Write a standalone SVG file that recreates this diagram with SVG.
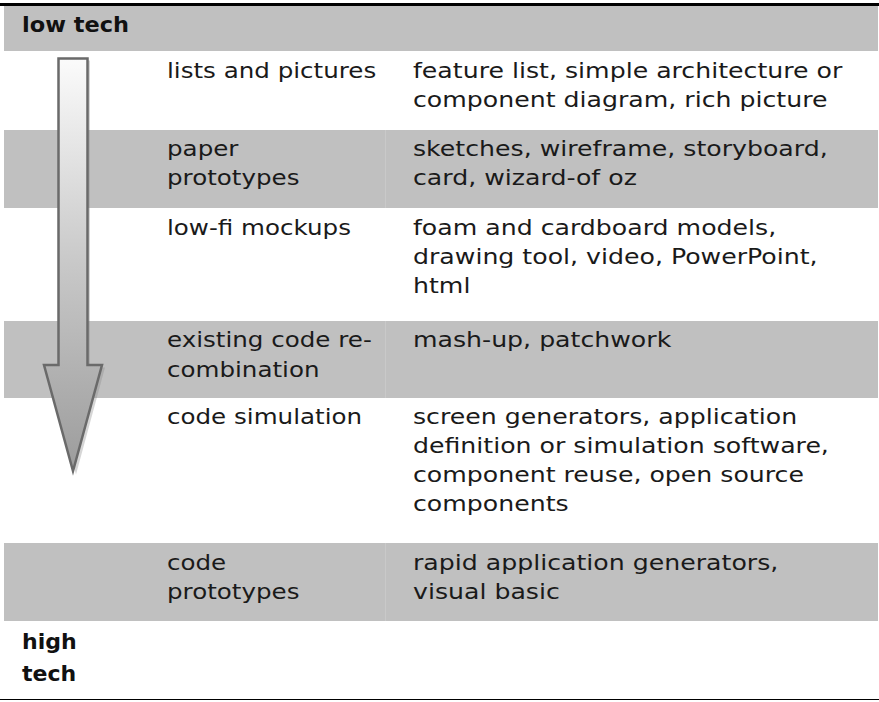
<svg xmlns="http://www.w3.org/2000/svg" width="879" height="702" viewBox="0 0 879 702">
<style>
.band{fill:#c0c0c0}
.t{font-family:"DejaVu Sans",sans-serif;font-size:21px;fill:#1a1a1a}
.b{font-family:"DejaVu Sans",sans-serif;font-size:21px;font-weight:bold;fill:#111}
.sep{stroke:#c9c9c9;stroke-width:1}
</style>
<defs>
<linearGradient id="ag" x1="0" y1="0" x2="0" y2="1">
<stop offset="0" stop-color="#fbfbfb"/>
<stop offset="0.5" stop-color="#c8c8c8"/>
<stop offset="1" stop-color="#9c9c9c"/>
</linearGradient>
</defs>
<g id="table-bands">
<rect class="band" x="4" y="6" width="874" height="45"/>
<rect class="band" x="4" y="130" width="874" height="78"/>
<rect class="band" x="4" y="321" width="874" height="77"/>
<rect class="band" x="4" y="543" width="874" height="78"/>
<line class="sep" x1="385.5" y1="130" x2="385.5" y2="208"/>
<line class="sep" x1="385.5" y1="321" x2="385.5" y2="398"/>
<line class="sep" x1="385.5" y1="543" x2="385.5" y2="621"/>
<rect x="0" y="3" width="879" height="3" fill="#000"/>
<rect x="0" y="699" width="879" height="1" fill="#000"/>
</g>
<g id="connectors">
<path d="M59.5,380 L59.5,59 L88.5,59 L88.5,366 L103.5,366 L74.5,473 L45.5,366 L59.5,366 Z" fill="#8a8a8a" opacity="0.35" transform="translate(1.5,1.5)"/>
<path id="arrow" d="M58.5,58.5 L87.5,58.5 L87.5,365 L102,365 L73,471 L44,365 L58.5,365 Z" fill="url(#ag)" stroke="#6a6a6a" stroke-width="2.5" stroke-linejoin="miter"/>
</g>
<g id="header"><g transform="translate(22,0) scale(1.07,1)"><text class="b" x="0" y="32">low tech</text></g></g>
<g id="row-lists">
<g transform="translate(167,0) scale(1.17,1)">
<text class="t" x="0" y="78">lists and pictures</text>
</g>
<g transform="translate(413,0) scale(1.2,1)">
<text class="t" x="0" y="78">feature list, simple architecture or</text>
<text class="t" x="0" y="107">component diagram, rich picture</text>
</g>
</g>
<g id="row-paper">
<g transform="translate(167,0) scale(1.17,1)">
<text class="t" x="0" y="156">paper</text>
<text class="t" x="0" y="185">prototypes</text>
</g>
<g transform="translate(413,0) scale(1.2,1)">
<text class="t" x="0" y="156">sketches, wireframe, storyboard,</text>
<text class="t" x="0" y="185">card, wizard-of oz</text>
</g>
</g>
<g id="row-lowfi">
<g transform="translate(167,0) scale(1.17,1)">
<text class="t" x="0" y="235">low-fi mockups</text>
</g>
<g transform="translate(413,0) scale(1.2,1)">
<text class="t" x="0" y="235">foam and cardboard models,</text>
<text class="t" x="0" y="264">drawing tool, video, PowerPoint,</text>
<text class="t" x="0" y="293">html</text>
</g>
</g>
<g id="row-existing">
<g transform="translate(167,0) scale(1.17,1)">
<text class="t" x="0" y="347">existing code re-</text>
<text class="t" x="0" y="377">combination</text>
</g>
<g transform="translate(413,0) scale(1.2,1)">
<text class="t" x="0" y="347">mash-up, patchwork</text>
</g>
</g>
<g id="row-codesim">
<g transform="translate(167,0) scale(1.17,1)">
<text class="t" x="0" y="424">code simulation</text>
</g>
<g transform="translate(413,0) scale(1.2,1)">
<text class="t" x="0" y="424">screen generators, application</text>
<text class="t" x="0" y="453">definition or simulation software,</text>
<text class="t" x="0" y="482">component reuse, open source</text>
<text class="t" x="0" y="511">components</text>
</g>
</g>
<g id="row-codeproto">
<g transform="translate(167,0) scale(1.17,1)">
<text class="t" x="0" y="570">code</text>
<text class="t" x="0" y="599">prototypes</text>
</g>
<g transform="translate(413,0) scale(1.2,1)">
<text class="t" x="0" y="570">rapid application generators,</text>
<text class="t" x="0" y="599">visual basic</text>
</g>
</g>
<g id="footer">
<g transform="translate(22,0) scale(1.05,1)">
<text class="b" x="0" y="649">high</text>
<text class="b" x="0" y="681">tech</text>
</g>
</g>
</svg>
